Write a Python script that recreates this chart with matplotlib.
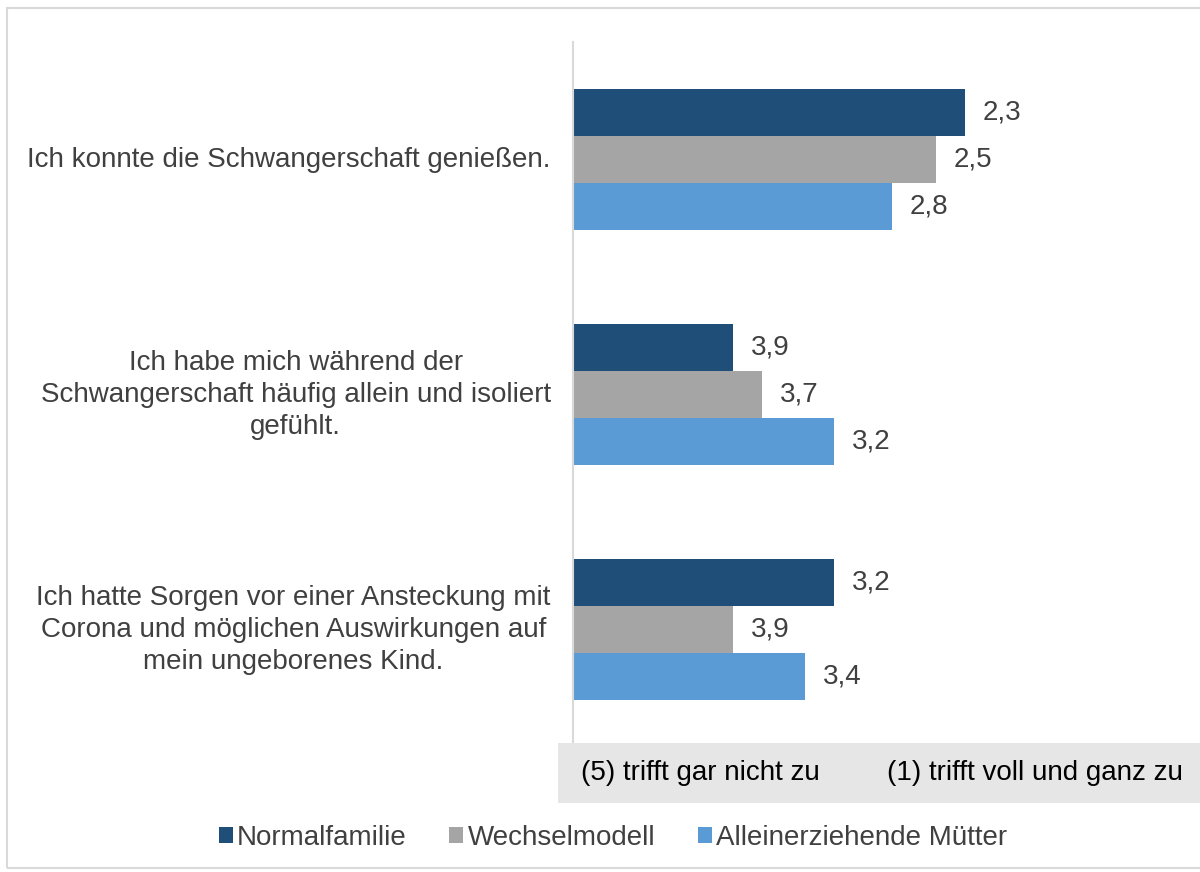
import matplotlib
matplotlib.use("Agg")
import matplotlib.pyplot as plt
from matplotlib.patches import Rectangle

plt.rcParams['font.family'] = ['Liberation Sans', 'DejaVu Sans']

categories = [
    "Ich konnte die Schwangerschaft genießen.",
    "Ich habe mich während der\nSchwangerschaft häufig allein und isoliert\ngefühlt.",
    "Ich hatte Sorgen vor einer Ansteckung mit\nCorona und möglichen Auswirkungen auf\nmein ungeborenes Kind.",
]
series_names = ["Normalfamilie", "Wechselmodell", "Alleinerziehende Mütter"]
normalfamilie = [2.3, 3.9, 3.2]
wechselmodell = [2.5, 3.7, 3.9]
alleinerziehende = [2.8, 3.2, 3.4]
scale_labels = ["(5) trifft gar nicht zu", "(1) trifft voll und ganz zu"]

colors = ["#1f4e79", "#a5a5a5", "#5b9bd5"]
text_color = "#404040"
FS = 20
W, H = 1200, 872
fig = plt.figure(figsize=(W / 100, H / 100), dpi=100)

# outer border
fig.patches.append(Rectangle((7 / W, 1 - 868 / H), 1200 / W, 860 / H, transform=fig.transFigure,
                             fill=False, edgecolor="#d9d9d9", linewidth=1.5))

ax = fig.add_axes([573 / W, 1 - 747 / H, 627 / W, 705 / H])
base = 5.0
ax.set_xlim(base, base - 627 / 145)
ax.set_ylim(2.5, -0.5)

series = [normalfamilie, wechselmodell, alleinerziehende]
h = 0.2
for i, (vals, name, c) in enumerate(zip(series, series_names, colors)):
    ys = [g + (i - 1) * h for g in range(len(categories))]
    widths = [v - base for v in vals]
    ax.barh(ys, widths, left=base, height=h, color=c, label=name, edgecolor="none")
    for y, v in zip(ys, vals):
        ax.annotate(f"{v:.1f}".replace(".", ","), xy=(v, y), xytext=(13, 0),
                    textcoords="offset points", va="center", ha="left",
                    fontsize=FS, color=text_color)

for s in ["top", "right", "bottom"]:
    ax.spines[s].set_visible(False)
ax.spines["left"].set_color("#d9d9d9")
ax.spines["left"].set_linewidth(1.5)
ax.set_xticks([])
ax.set_yticks([])

for g, cat in enumerate(categories):
    ax.annotate(cat, xy=(0, g), xycoords=("axes fraction", "data"), xytext=(-16, 0),
                textcoords="offset points", ha="right", va="center", multialignment="center",
                fontsize=FS, color=text_color, linespacing=1.3)

# gray scale box
fig.patches.append(Rectangle((558 / W, 1 - 803 / H), 642 / W, 60 / H, transform=fig.transFigure,
                             facecolor="#e6e6e6", edgecolor="none", zorder=5))
fig.text(700 / W, 1 - 773 / H, scale_labels[0], ha="center", va="center", fontsize=FS,
         color="#000000", zorder=6)
fig.text(1035 / W, 1 - 773 / H, scale_labels[1], ha="center", va="center", fontsize=FS,
         color="#000000", zorder=6)

handles, labels = ax.get_legend_handles_labels()
fig.legend(handles, labels, loc="center", bbox_to_anchor=(613 / W, 1 - 838 / H), ncol=3,
           frameon=False, fontsize=FS, handlelength=0.5, handleheight=0.5,
           handletextpad=0.15, columnspacing=1.55, labelcolor=text_color)

fig.savefig("out.png", dpi=100)
